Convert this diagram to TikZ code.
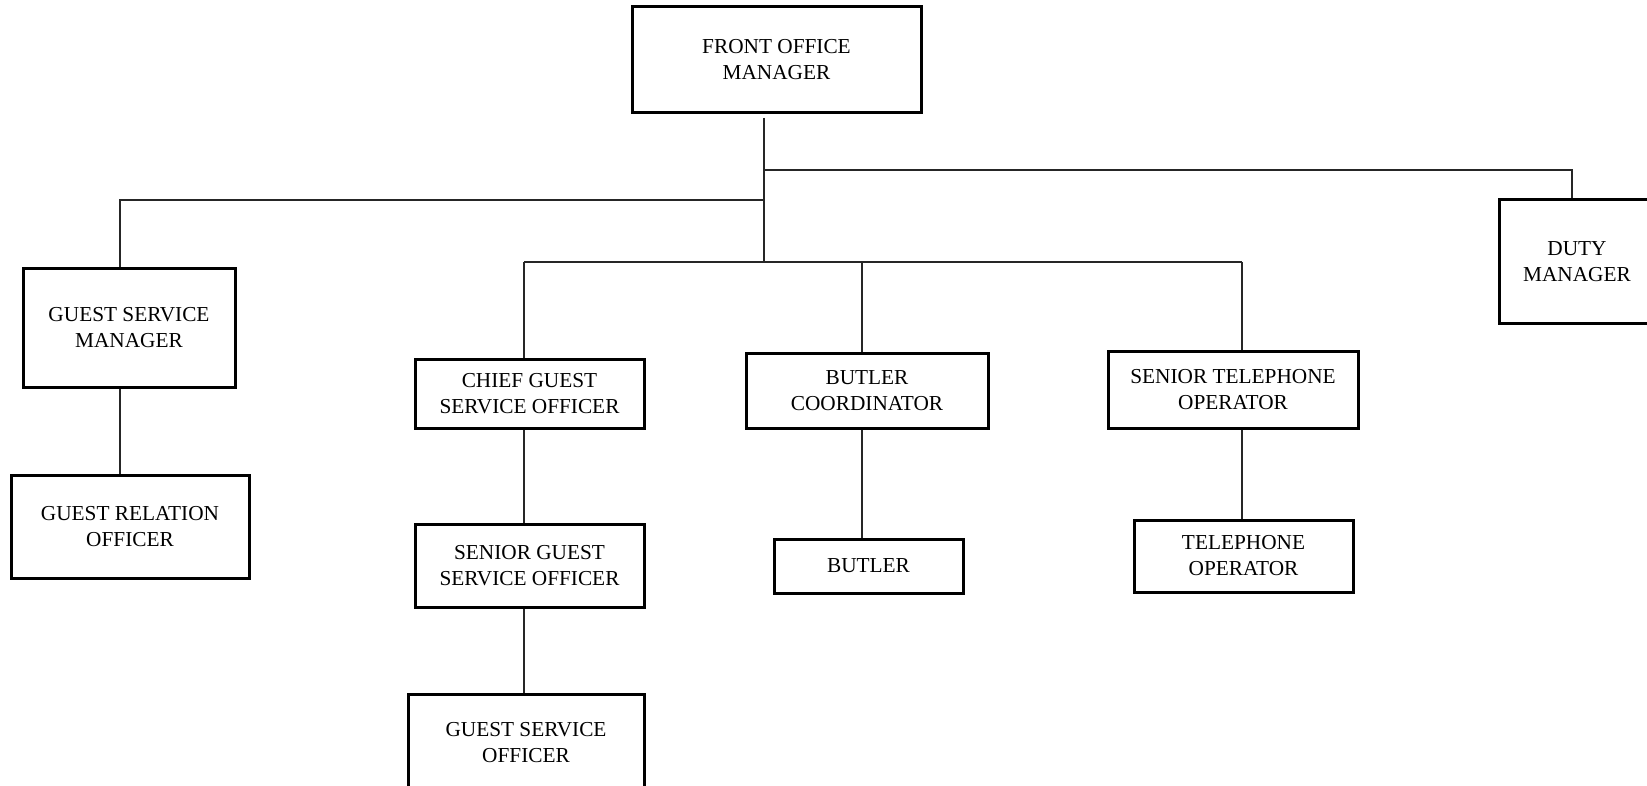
\documentclass[tikz,border=0pt]{standalone}
\usepackage{fontspec}
\setmainfont{Liberation Serif}
\begin{document}
\begin{tikzpicture}[x=1pt,y=-1pt,
  box/.style={draw=black, line width=3pt, rectangle, inner sep=0pt, align=center,
    font=\fontsize{21.3}{26}\selectfont, text=black},
  link/.style={draw=black!85, line width=1.3pt}]
\useasboundingbox (0,0) rectangle (1647,786);
\fill[white] (0,0) rectangle (1647,786);

\node[box, minimum width=289pt, minimum height=106pt] (fom) at (776.5,60) {FRONT OFFICE\\MANAGER};
\node[box, minimum width=212pt, minimum height=118pt] (gsm) at (129,328) {GUEST SERVICE\\MANAGER};
\node[box, minimum width=238pt, minimum height=103pt] (gro) at (130,526.5) {GUEST RELATION\\OFFICER};
\node[box, minimum width=229pt, minimum height=68pt] (cgso) at (529.5,394) {CHIEF GUEST\\SERVICE OFFICER};
\node[box, minimum width=229pt, minimum height=83pt] (sgso) at (529.5,565.5) {SENIOR GUEST\\SERVICE OFFICER};
\node[box, minimum width=236pt, minimum height=97pt] (gso) at (526,742.5) {GUEST SERVICE\\OFFICER};
\node[box, minimum width=242pt, minimum height=74pt] (bc) at (867,391) {BUTLER\\COORDINATOR};
\node[box, minimum width=189pt, minimum height=54pt] (but) at (868.5,566) {BUTLER};
\node[box, minimum width=250pt, minimum height=76pt] (sto) at (1233,390) {SENIOR TELEPHONE\\OPERATOR};
\node[box, minimum width=219pt, minimum height=72pt] (to) at (1243.5,556) {TELEPHONE\\OPERATOR};
\node[box, minimum width=156pt, minimum height=124pt] (dm) at (1577,262) {DUTY\\MANAGER};

\coordinate (top) at (764,118);
\coordinate (hub) at (764,262);
\coordinate (lft) at (764,200);
\coordinate (rgt) at (764,170);
\coordinate (xg) at (120,0);
\coordinate (xc) at (524,0);
\coordinate (xb) at (862,0);
\coordinate (xs) at (1242,0);
\coordinate (xd) at (1572,0);
\coordinate (busL) at (524,262);
\coordinate (busR) at (1242,262);

\draw[link] (top) -- (hub);
\draw[link] (lft) -| (gsm.north -| xg);
\draw[link] (rgt) -| (dm.north -| xd);
\draw[link] (busL) -- (busR);
\draw[link] (busL) -- (cgso.north -| xc);
\draw[link] (hub -| xb) -- (bc.north -| xb);
\draw[link] (busR) -- (sto.north -| xs);
\draw[link] (gsm.south -| xg) -- (gro.north -| xg);
\draw[link] (cgso.south -| xc) -- (sgso.north -| xc);
\draw[link] (sgso.south -| xc) -- (gso.north -| xc);
\draw[link] (bc.south -| xb) -- (but.north -| xb);
\draw[link] (sto.south -| xs) -- (to.north -| xs);
\end{tikzpicture}
\end{document}
